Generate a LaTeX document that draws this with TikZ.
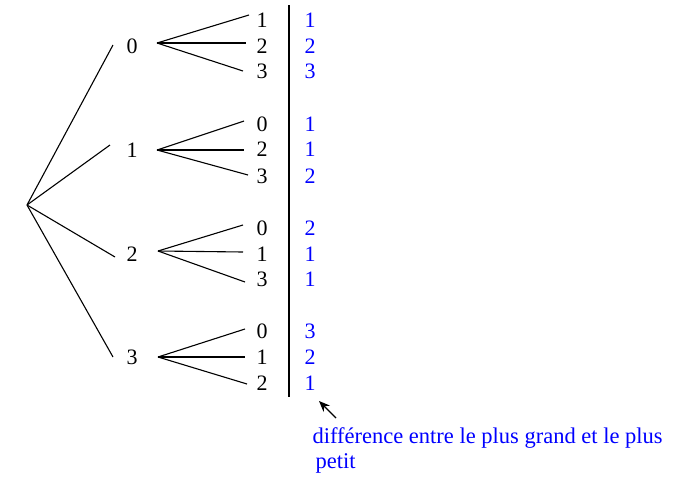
\documentclass[tikz,border=0pt]{standalone}
\usepackage{fontspec}
\setmainfont{Liberation Serif}
\usetikzlibrary{arrows.meta}
\begin{document}
\begin{tikzpicture}[x=1pt,y=-1pt,line width=1.1pt,
  lab/.style={inner sep=0pt,font=\fontsize{22}{25}\selectfont},
  val/.style={lab,text=blue},
  branch/.style={draw=black,line width=1.1pt}]
\useasboundingbox (0,0) rectangle (680,477);
% root
\coordinate (root) at (27,205);
% level 1 labels
\node[lab] (n0) at (132,46) {0};
\node[lab] (n1) at (132,150) {1};
\node[lab] (n2) at (132,254) {2};
\node[lab] (n3) at (132,357) {3};
% level 1 line ends and fan points
\coordinate (e0) at (113,45);  \coordinate (f0) at (157,43);
\coordinate (e1) at (110,145); \coordinate (f1) at (157,150);
\coordinate (e2) at (115,257); \coordinate (f2) at (158,251);
\coordinate (e3) at (113,357); \coordinate (f3) at (158,357);
\draw[branch] (root) -- (e0);
\draw[branch] (root) -- (e1);
\draw[branch] (root) -- (e2);
\draw[branch] (root) -- (e3);
% level 2 labels
\node[lab] (a1) at (262,20) {1};
\node[lab] (a2) at (262,46) {2};
\node[lab] (a3) at (262,71) {3};
\node[lab] (b1) at (262,124) {0};
\node[lab] (b2) at (262,149) {2};
\node[lab] (b3) at (262,176) {3};
\node[lab] (c1) at (262,228) {0};
\node[lab] (c2) at (262,254) {1};
\node[lab] (c3) at (262,279) {3};
\node[lab] (d1) at (262,331) {0};
\node[lab] (d2) at (262,357) {1};
\node[lab] (d3) at (262,383) {2};
% level 2 line ends
\coordinate (ea1) at (249,15);  \coordinate (ea2) at (246,43);  \coordinate (ea3) at (243,71);
\coordinate (eb1) at (244,121); \coordinate (eb2) at (244,150); \coordinate (eb3) at (248,175);
\coordinate (ec1) at (243,225); \coordinate (ec2) at (243,252); \coordinate (ec3) at (245,282);
\coordinate (ed1) at (245,329); \coordinate (ed2) at (245,357); \coordinate (ed3) at (247,384);
\draw[branch] (f0) -- (ea1); \draw[branch] (f0) -- (ea2); \draw[branch] (f0) -- (ea3);
\draw[branch] (f1) -- (eb1); \draw[branch] (f1) -- (eb2); \draw[branch] (f1) -- (eb3);
\draw[branch] (f2) -- (ec1); \draw[branch] (f2) -- (ec2); \draw[branch] (f2) -- (ec3);
\draw[branch] (f3) -- (ed1); \draw[branch] (f3) -- (ed2); \draw[branch] (f3) -- (ed3);
% separator
\coordinate (sepT) at (289,5);
\coordinate (sepB) at (289,397);
\draw[branch] (sepT) -- (sepB);
% values
\node[val] (va1) at (310,20) {1};
\node[val] (va2) at (310,46) {2};
\node[val] (va3) at (310,71) {3};
\node[val] (vb1) at (310,124) {1};
\node[val] (vb2) at (310,149) {1};
\node[val] (vb3) at (310,176) {2};
\node[val] (vc1) at (310,228) {2};
\node[val] (vc2) at (310,254) {1};
\node[val] (vc3) at (310,279) {1};
\node[val] (vd1) at (310,331) {3};
\node[val] (vd2) at (310,357) {2};
\node[val] (vd3) at (310,383) {1};
% note
\node[val,anchor=base west,align=left,font=\fontsize{22.5}{25}\selectfont] (note) at (312,468)
  {différence entre le plus grand et le plus\\\hspace{3pt}petit};
\coordinate (arT) at (336,418);
\coordinate (arH) at (319,401);
\draw[branch,-{Stealth[length=11pt,width=9pt]}] (arT) -- (arH);
\end{tikzpicture}
\end{document}
